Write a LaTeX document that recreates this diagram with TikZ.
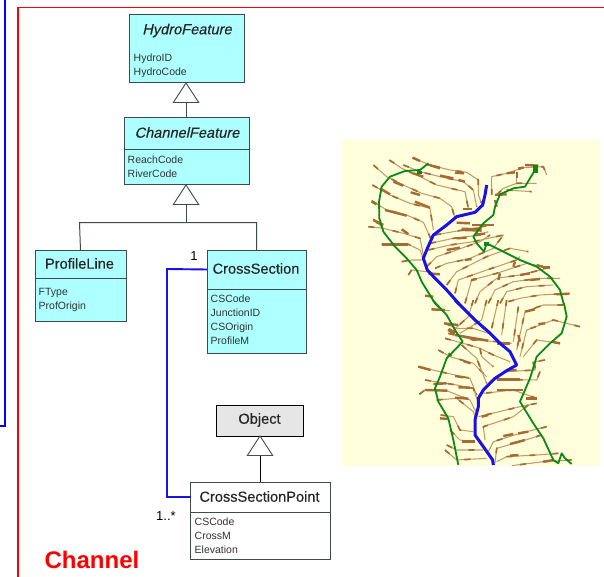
\documentclass[tikz,border=0pt]{standalone}
\usepackage{fontspec}
\setmainfont{Liberation Sans}
\newfontfamily\titlef[FakeBold=0.4]{Liberation Sans}
\newfontfamily\titlei[FakeBold=0.4,FakeSlant=0.22]{Liberation Sans}
\definecolor{cy}{HTML}{AEFFFF}
\definecolor{obj}{HTML}{E6E6E6}
\definecolor{bg}{HTML}{FFFFDC}
\definecolor{tan}{HTML}{C39A68}
\definecolor{brn}{HTML}{A56B35}
\definecolor{grn}{HTML}{0A8A14}
\definecolor{blu}{HTML}{1A10E8}
\definecolor{edge}{HTML}{3F4A4A}
\tikzset{
 x=1pt,y=-1pt,
 titlebox/.style={draw=edge,line width=1pt,inner sep=0pt,outer sep=0pt},
 attrbox/.style={draw=edge,line width=1pt,inner sep=0pt,outer sep=0pt},
 attrtext/.style={anchor=north west,inner sep=0pt,align=left,font=\fontsize{10.5}{13.9}\selectfont,text=black!80},
 genline/.style={draw=edge,line width=1pt},
 gentri/.style={draw=edge,line width=0.9pt,fill=white},
 assoc/.style={draw=blu,line width=1.9pt},
 lbl/.style={inner sep=0pt,font=\fontsize{13}{15}\selectfont},
 tl/.style={draw=tan,line width=1.05pt,line join=round,postaction={draw=brn,line width=1.7pt,dash pattern=on 6pt off 17pt}},
 bl/.style={draw=brn,line width=2.4pt},
 gl/.style={draw=grn,line width=1.8pt,line join=round},
 rl/.style={draw=blu,line width=3pt,line join=round},
 tt/.style={inner sep=0pt,font=\titlef\fontsize{14.6}{16}\selectfont,text=black!85},
 ti/.style={inner sep=0pt,font=\titlei\fontsize{14.6}{16}\selectfont,text=black!85},
}
\newcommand{\umlbox}[7]{% name x1 y1 x2 y2 ydiv fill
 \pgfmathsetmacro{\mycx}{(#2+#4)/2}\pgfmathsetmacro{\mywd}{#4-#2}
 \pgfmathsetmacro{\mycy}{(#3+#6)/2}\pgfmathsetmacro{\myht}{#6-#3}
 \pgfmathsetmacro{\mycya}{(#6+#5)/2}\pgfmathsetmacro{\myhta}{#5-#6}
 \node[attrbox,fill=#7,minimum width=\mywd pt,minimum height=\myhta pt] (#1attr) at (\mycx,\mycya) {};
 \node[titlebox,fill=#7,minimum width=\mywd pt,minimum height=\myht pt] (#1) at (\mycx,\mycy) {};
}
\begin{document}
\begin{tikzpicture}
\useasboundingbox (0,0) rectangle (604,577);
\fill[white] (0,0) rectangle (604,577);
% frames
\coordinate (bt) at (5,0); \coordinate (bb) at (5,426); \coordinate (be) at (0,426);
\draw[draw=blue,line width=1.7pt] (bt) -- (bb) -- (be);
\coordinate (ra) at (604,7.5); \coordinate (rb) at (18,7.5); \coordinate (rc) at (18,577);
\draw[draw=red,line width=1.5pt] (ra) -- (rb) -- (rc);

% classes
\node[attrbox,fill=cy,minimum width=114.5pt,minimum height=68pt] (hfb) at (186.75,49) {};
\umlbox{cf}{124}{117.5}{249}{185}{150}{cy}
\umlbox{pl}{35}{250.5}{126}{321.5}{278}{cy}
\umlbox{cs}{207}{250}{306}{353}{289}{cy}
\node[titlebox,draw=black,fill=obj,minimum width=87pt,minimum height=31pt] (ob) at (260,420.5) {};
\umlbox{cp}{190.5}{482}{330}{559}{512}{white}

\node[ti] (hft) at (187,30.5) {HydroFeature};
\node[ti] (cft) at (187,132.5) {ChannelFeature};
\node[tt] (plt) at (79.5,263.5) {ProfileLine};
\node[tt] (cst) at (256,268.5) {CrossSection};
\node[tt] (obt) at (259.5,420) {Object};
\node[tt] (cpt) at (259.5,496.5) {CrossSectionPoint};

\node[attrtext] (hfa) at (133.5,54) {HydroID\\HydroCode};
\node[attrtext] (cfa) at (127.5,156) {ReachCode\\RiverCode};
\node[attrtext] (pla) at (38.5,288) {FType\\ProfOrigin};
\node[attrtext] (csa) at (210.5,295) {CSCode\\JunctionID\\CSOrigin\\ProfileM};
\node[attrtext] (cpa) at (194.5,517.5) {CSCode\\CrossM\\Elevation};

% generalisations
\coordinate (t1) at (186,103);
\draw[genline] (t1) -- (cf.north -| t1);
\draw[gentri] (hfb.south -| t1) -- ++(-12.7,19.5) -- ++(25.4,0) -- cycle;
\coordinate (t2) at (186,205);
\coordinate (jl) at (79.5,222.5); \coordinate (jr) at (256.5,222.5);
\draw[genline] (t2) -- (t2 |- jl);
\draw[genline] (pl.north) -- (jl) -- (jr) -- (cs.north);
\draw[gentri] (cfattr.south -| t2) -- ++(-12.7,19.5) -- ++(25.4,0) -- cycle;
\coordinate (t3) at (260,456);
\draw[genline,draw=black] (t3) -- (cp.north -| t3);
\draw[gentri,draw=black!70] (ob.south -| t3) -- ++(-12.7,19.5) -- ++(25.4,0) -- cycle;

% association
\coordinate (av) at (167,269);
\draw[assoc] (cs.west) -- (av) |- (cp.west);
\node[lbl] (one) at (194,256) {1};
\node[lbl,font=\fontsize{13}{14}\selectfont] (many) at (166,516) {1..*};
\node[inner sep=0pt,text=red,font=\bfseries\fontsize{24}{26}\selectfont] (chan) at (92,559.5) {Channel};

% map
\fill[bg] (342,140) rectangle (600,466);
\begin{scope}[shift={(340pt,-135pt)},x=0.33333pt,y=-0.33333pt]
% upper part thin contours
\draw[tl] (218,68)--(270,90)--(330,105)--(380,112)--(415,135)--(415,180)--(425,205);
\draw[tl] (190,90)--(240,110)--(300,125)--(370,140)--(400,165)--(410,215);
\draw[tl] (148,75)--(185,100)--(240,125)--(290,150)--(375,170)--(385,220);
\draw[tl] (100,90)--(140,125)--(190,150)--(245,175)--(300,190)--(335,215)--(345,250);
\draw[tl] (97,150)--(150,180)--(210,205)--(270,220)--(280,285);
\draw[tl] (95,197)--(140,225)--(200,240)--(250,262)--(272,310);
\draw[tl] (100,253)--(130,280)--(190,295)--(240,310)--(250,360);
\draw[tl] (85,275)--(130,280);
\draw[tl] (125,328)--(205,328)--(240,345)--(250,370);
\draw[tl] (185,380)--(215,375)--(245,375);
\draw[tl] (205,420)--(215,405)--(260,410)--(290,420);
\draw[tl] (455,180)--(455,125)--(500,115)--(550,98)--(610,95)--(620,120);
\draw[tl] (470,180)--(490,160)--(530,145)--(590,145);
\draw[tl] (500,165)--(575,170);
\draw[tl] (530,110)--(530,140);
\draw[tl] (285,300)--(340,290)--(400,280)--(460,268);
\draw[tl] (270,325)--(340,310)--(420,300)--(445,290);
\draw[tl] (265,345)--(330,330)--(400,320)--(490,300);
\draw[tl] (260,395)--(290,365)--(350,345)--(420,320)--(450,300);
\draw[tl] (285,400)--(320,385)--(385,372)--(460,340)--(490,300);
\draw[tl] (320,450)--(350,410)--(440,365)--(510,340)--(565,350);
\draw[tl] (345,475)--(355,435)--(440,405)--(530,375)--(540,365);
\draw[tl] (375,505)--(395,435)--(470,415)--(560,385)--(610,395);
\draw[tl] (405,505)--(420,470)--(470,430)--(540,420)--(630,398);
\draw[tl] (445,505)--(465,465)--(520,440)--(600,430)--(660,430);
\draw[tl] (480,505)--(500,470)--(560,455)--(640,450);
\draw[tl] (505,500)--(540,490)--(600,480)--(690,475);
% upper thick
\draw[bl] (218,68)--(240,78); \draw[bl] (262,88)--(300,100); \draw[bl] (345,113)--(372,115);
\draw[bl] (300,122)--(340,130); \draw[bl] (355,135)--(375,140); \draw[bl] (220,115)--(250,125);
\draw[bl] (160,140)--(190,152); \draw[bl] (212,172)--(240,180); \draw[bl] (120,160)--(150,178);
\draw[bl] (225,200)--(270,218); \draw[bl] (135,225)--(200,242); \draw[bl] (95,200)--(110,208);
\draw[bl] (185,283)--(205,297); \draw[bl] (100,255)--(130,270); \draw[bl] (125,328)--(205,328);
\draw[bl] (500,115)--(525,112); \draw[bl] (555,90)--(595,92); \draw[bl] (535,100)--(550,98);
\draw[bl] (465,180)--(500,178); \draw[bl] (465,195)--(470,215); \draw[bl] (370,222)--(395,222);
\draw[bl] (350,263)--(390,265); \draw[bl] (395,270)--(462,270); \draw[bl,line width=3.6pt] (365,283)--(425,285);
\draw[bl] (405,298)--(435,296); \draw[bl] (350,310)--(380,308);
\draw[bl] (320,345)--(360,338); \draw[bl] (265,415)--(300,418);
\draw[bl] (255,482)--(280,485); \draw[bl] (610,398)--(630,398); \draw[bl] (395,435)--(410,432);
\draw[bl] (540,420)--(570,415); \draw[bl] (570,435)--(600,432); \draw[bl] (650,478)--(688,476);
\draw[bl] (375,375)--(395,372); \draw[bl] (475,435)--(480,415); \draw[bl] (520,395)--(525,380);
\draw[bl] (590,390)--(610,396);
\end{scope}
\begin{scope}[shift={(340pt,-300pt)},x=0.33333pt,y=-0.33333pt]
% lower thin contours
\draw[tl] (275,28)--(330,32);
\draw[tl] (400,0)--(385,50)--(330,100);
\draw[tl] (440,0)--(425,60)--(360,100);
\draw[tl] (475,0)--(455,85);
\draw[tl] (500,0)--(485,105);
\draw[tl] (535,20)--(520,125);
\draw[tl] (670,15)--(610,15)--(555,35)--(530,150);
\draw[tl] (720,80)--(640,60)--(560,90)--(540,170);
\draw[tl] (660,130)--(590,120)--(550,170);
\draw[tl] (315,70)--(350,85)--(400,85)--(445,100);
\draw[tl] (325,100)--(400,120)--(470,125)--(515,130);
\draw[tl] (315,115)--(370,130)--(420,145)--(460,165)--(510,185);
\draw[tl] (295,150)--(330,170)--(400,190)--(440,230);
\draw[tl] (420,145)--(425,170)--(460,200);
\draw[tl] (365,135)--(410,175)--(430,225)--(440,250);
\draw[tl] (235,200)--(300,215)--(390,235)--(410,285);
\draw[tl] (255,240)--(350,255)--(400,265)--(412,300);
\draw[tl] (238,283)--(255,270)--(320,272)--(390,300)--(410,340);
\draw[tl] (290,300)--(350,295)--(400,335)--(405,350);
\draw[tl] (615,180)--(585,185)--(585,210)--(500,215);
\draw[tl] (600,215)--(590,240)--(470,238);
\draw[tl] (590,295)--(520,270)--(430,280);
\draw[tl] (590,310)--(540,320)--(415,350);
\draw[tl] (565,315)--(520,350)--(430,380)--(435,420);
\draw[tl] (620,380)--(540,400)--(460,425)--(445,455);
\draw[tl] (605,405)--(540,425)--(470,445)--(465,490);
\draw[tl] (655,460)--(590,465)--(500,470)--(470,485);
\draw[tl] (695,480)--(610,485)--(515,497);
\draw[tl] (302,345)--(340,350)--(360,390)--(400,395);
\draw[tl] (330,390)--(360,420)--(405,425);
\draw[tl] (320,435)--(350,450)--(430,450);
\draw[tl] (315,450)--(350,480)--(440,475);
% lower thick
\draw[bl] (275,28)--(315,30); \draw[bl] (312,70)--(355,75); \draw[bl,line width=3.6pt] (325,88)--(345,100);
\draw[bl] (345,105)--(445,122); \draw[bl] (235,200)--(272,210); \draw[bl] (345,228)--(370,232);
\draw[bl] (370,183)--(392,190); \draw[bl] (325,160)--(335,168); \draw[bl] (255,270)--(322,272);
\draw[bl] (280,252)--(320,250); \draw[bl] (355,262)--(390,263); \draw[bl] (345,293)--(385,296);
\draw[bl] (470,270)--(550,270); \draw[bl] (558,295)--(590,295); \draw[bl] (470,238)--(540,238);
\draw[bl] (300,355)--(325,357); \draw[bl] (365,424)--(405,424); \draw[bl] (595,72)--(615,70);
\draw[bl] (555,35)--(585,28); \draw[bl] (635,125)--(660,130); \draw[bl] (535,105)--(540,125);
\draw[bl] (580,185)--(585,205); \draw[bl] (500,212)--(530,210);
\draw[bl] (490,408)--(520,402); \draw[bl] (535,400)--(565,395); \draw[bl] (510,432)--(555,420);
\draw[bl] (425,350)--(445,345); \draw[bl] (510,467)--(535,465); \draw[bl] (610,485)--(640,480);
\draw[bl] (425,80)--(440,90); \draw[bl] (470,130)--(510,130);
\end{scope}
\begin{scope}[shift={(340pt,-135pt)},x=0.33333pt,y=-0.33333pt]
\draw[gl] (265,85)--(240,105)--(195,108)--(150,125)--(125,155)--(117,200)--(118,250)--(130,290)--(165,335)--(200,370)--(230,405)--(245,440)--(285,505)--(298,518);
\draw[gl] (585,90)--(585,105)--(570,130)--(555,155)--(520,160)--(480,178)--(465,215)--(460,240)--(430,265)--(400,305)--(410,325)--(432,350)--(440,325)--(480,345)--(540,375)--(590,395)--(630,425)--(660,465)--(672,510);
\fill[grn] (232,108) rectangle (246,116);
\fill[grn] (580,90) rectangle (594,115);
\fill[grn] (432,322) rectangle (448,334);
\draw[rl] (440,150)--(435,180)--(428,210)--(405,232)--(350,245)--(320,270)--(280,300)--(262,340)--(250,370)--(262,405)--(285,430)--(320,465)--(358,508);
\end{scope}
\begin{scope}[shift={(340pt,-300pt)},x=0.33333pt,y=-0.33333pt]
\draw[gl] (278,0)--(320,45)--(345,90)--(368,125)--(320,175)--(300,230)--(285,265)--(295,305)--(325,355)--(340,420)--(355,495);
\draw[gl] (672,10)--(680,50)--(665,100)--(630,130)--(590,170)--(570,235)--(540,305)--(580,370)--(610,415)--(640,480)--(655,490)--(665,460)--(675,475)--(695,492);
\draw[rl] (345,0)--(375,30)--(405,60)--(445,95)--(480,130)--(510,155)--(530,195)--(500,212)--(465,235)--(430,270)--(415,295)--(415,320)--(405,360)--(405,405)--(430,440)--(458,480)--(460,495);
\end{scope}
\end{tikzpicture}
\end{document}
